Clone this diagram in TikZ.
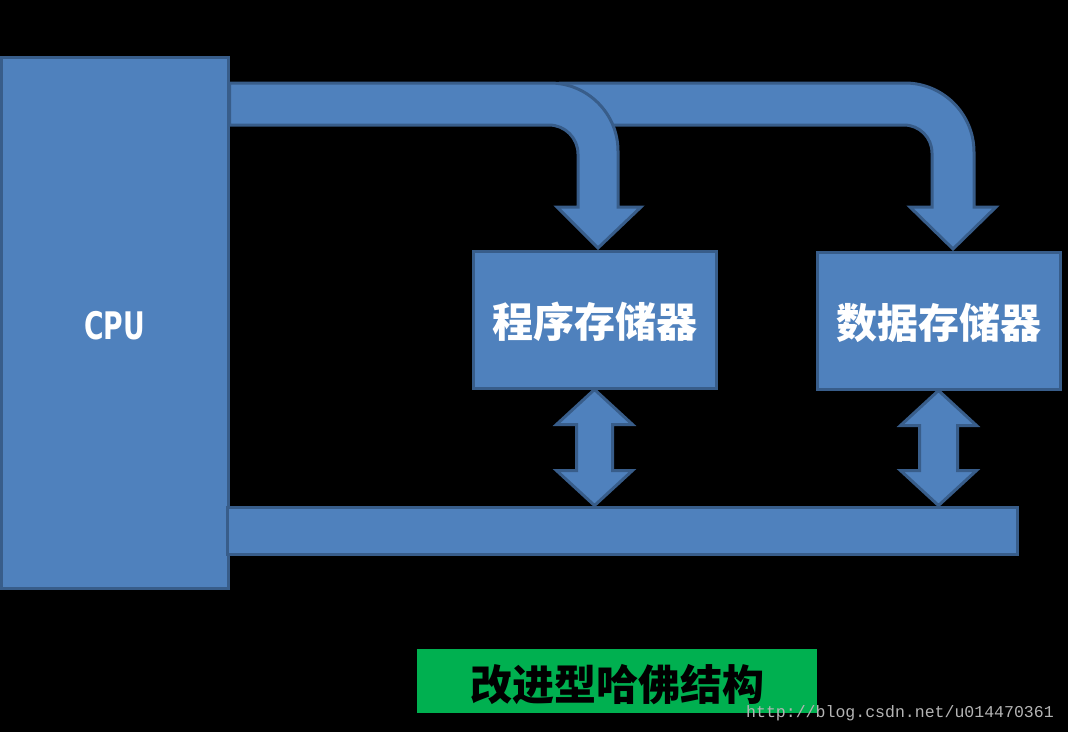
\documentclass[tikz,border=0pt]{standalone}
\usepackage{fontspec}
\newfontfamily\cjk{Noto Sans CJK SC}
\newfontfamily\cpufont[FakeStretch=0.78]{DejaVu Sans Condensed}
\newfontfamily\urlfont{Liberation Mono}
\usetikzlibrary{fit,calc}
\definecolor{boxblue}{HTML}{4F81BD}
\definecolor{boxedge}{HTML}{385D8A}
\definecolor{titlegreen}{HTML}{00B050}
\definecolor{markgray}{HTML}{B4B4B4}
\tikzset{
  blk/.style={draw=boxedge, fill=boxblue, line width=2.25pt, inner sep=0pt},
  memfont/.style={text=white, font=\cjk\bfseries\fontsize{30.75}{32}\selectfont},
  bigarrow/.style={draw=boxedge, fill=boxblue, line width=2.25pt, line join=miter},
}
\begin{document}
\begin{tikzpicture}[x=0.75pt,y=-0.75pt]
  \useasboundingbox (0,0) rectangle (1068,732);
  \fill[black] (0,0) rectangle (1068,732);

  \node[blk, fit={(1,57) (228,588)},
    label={[text=white, yshift=-2pt, font=\cpufont\bfseries\fontsize{28.5}{30}\selectfont]center:CPU}] (cpu) {};
  \node[blk, fit={(473,251) (716,388)}, label={[memfont, yshift=-1.5pt]center:程序存储器}] (prog) {};
  \node[blk, fit={(817,252) (1060,389)}, label={[memfont, yshift=-1.5pt]center:数据存储器}] (data) {};
  \node[blk, fit={(227,507) (1017,554)}] (bus) {};

  % bus to data memory
  \draw[bigarrow] (560,83) -- (905,83) arc(-90:0:69) -- (974,207) -- (996,207)
    -- (953,249) -- (910,207) -- (932,207) -- (932,153) arc(0:-90:28) -- (560,125) -- cycle;
  % bus to program memory
  \draw[bigarrow] (cpu.east |- 0,83) -- (550,83) arc(-90:0:68) -- (618,207) -- (641,207)
    -- (598,248) -- (557,207) -- (578,207) -- (578,154) arc(0:-90:29) -- (cpu.east |- 0,125) -- cycle;

  % memories to data bus
  \coordinate (p1) at (prog.south);
  \coordinate (p2) at (prog.south |- bus.north);
  \draw[bigarrow] (p1) -- ($(p1)+(38,35)$) -- ($(p1)+(18,35)$) -- ($(p2)+(18,-35)$) -- ($(p2)+(38,-35)$)
    -- (p2) -- ($(p2)+(-38,-35)$) -- ($(p2)+(-18,-35)$) -- ($(p1)+(-18,35)$) -- ($(p1)+(-38,35)$) -- cycle;
  \coordinate (d1) at (data.south);
  \coordinate (d2) at (data.south |- bus.north);
  \draw[bigarrow] (d1) -- ($(d1)+(38,35)$) -- ($(d1)+(19,35)$) -- ($(d2)+(19,-35)$) -- ($(d2)+(38,-35)$)
    -- (d2) -- ($(d2)+(-38,-35)$) -- ($(d2)+(-19,-35)$) -- ($(d1)+(-19,35)$) -- ($(d1)+(-38,35)$) -- cycle;

  \node[fill=titlegreen, inner sep=0pt, fit={(417,649) (817,713)},
    label={[text=black, yshift=-2.5pt, font=\cjk\bfseries\fontsize{31.5}{33}\selectfont]center:改进型哈佛结构}] (title) {};
  \node[text=markgray, inner sep=0pt, font=\urlfont\fontsize{12.4}{14}\selectfont] (mark) at (900,713)
    {http://blog.csdn.net/u014470361};
\end{tikzpicture}
\end{document}
